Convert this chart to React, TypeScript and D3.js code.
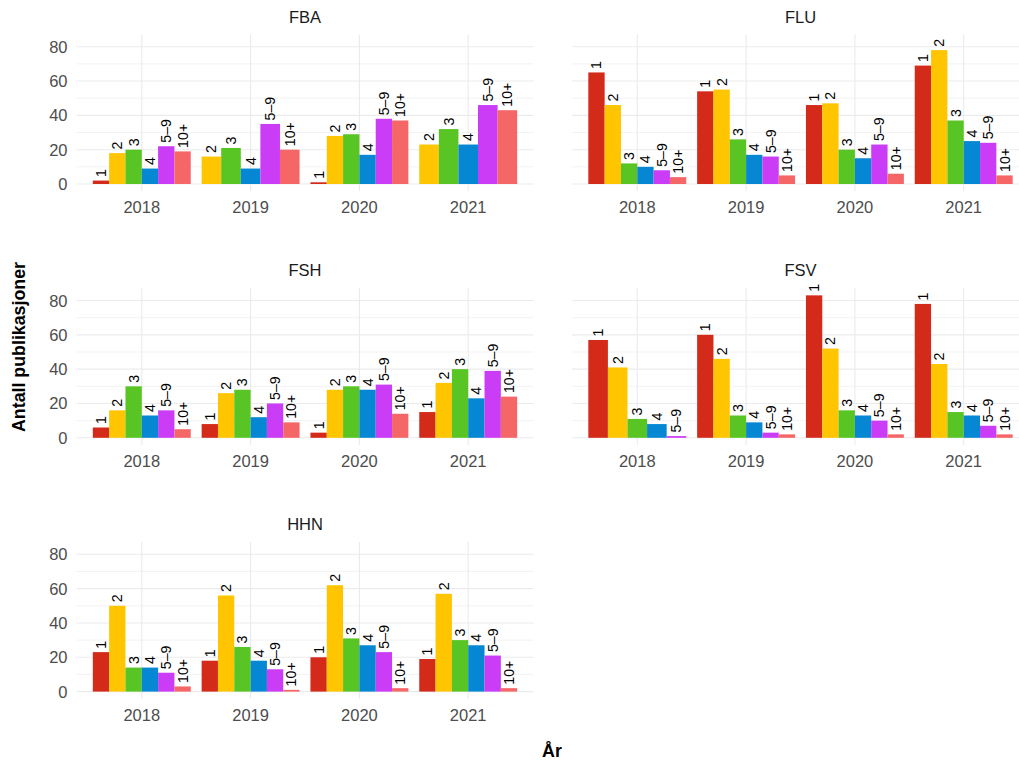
import * as d3 from "d3";
import React from "react";

const facets = ["FBA", "FLU", "FSH", "FSV", "HHN"];
const categories = ["1", "2", "3", "4", "5–9", "10+"];
const years = ["2018", "2019", "2020", "2021"];
const colors = ["#d42a1a", "#fec500", "#58c524", "#0687d4", "#ca3cf6", "#f56767"];

// values per year, in category order (null = no bar)
const fbaValues = [[2, 18, 20, 9, 22, 19], [null, 16, 21, 9, 35, 20], [1, 28, 29, 17, 38, 37], [null, 23, 32, 23, 46, 43]];
const fluValues = [[65, 46, 12, 10, 8, 4], [54, 55, 26, 17, 16, 5], [46, 47, 20, 15, 23, 6], [69, 78, 37, 25, 24, 5]];
const fshValues = [[6, 16, 30, 13, 16, 5], [8, 26, 28, 12, 20, 9], [3, 28, 30, 28, 31, 14], [15, 32, 40, 23, 39, 24]];
const fsvValues = [[57, 41, 11, 8, 1, null], [60, 46, 13, 9, 3, 2], [83, 52, 16, 13, 10, 2], [78, 43, 15, 13, 7, 2]];
const hhnValues = [[23, 50, 14, 14, 11, 3], [18, 56, 26, 18, 13, 1], [20, 62, 31, 27, 23, 2], [19, 57, 30, 27, 21, 2]];

const facetValues = [fbaValues, fluValues, fshValues, fsvValues, hhnValues];
const majorTicks = [0, 20, 40, 60, 80];
const minorTicks = [10, 30, 50, 70];

const W = 1019;
const H = 763;
const font = "'Liberation Sans', Arial, Helvetica, sans-serif";
const colLeft = [76.5, 572];
const panelW = 457;
const rowZero = [184, 437.8, 691.6];
const unit = 137.3 / 80;

const Panel = ({ idx }: { idx: number }) => {
  const col = idx % 2;
  const row = Math.floor(idx / 2);
  const left = colLeft[col];
  const zero = rowZero[row];
  const y = d3.scaleLinear().domain([0, 80]).range([zero, zero - 80 * unit]);
  const top = y(87.15);
  const bottom = y(-4.15);
  const x = d3.scalePoint().domain(years).range([left, left + panelW]).padding(0.6);
  const step = x.step();
  const values = facetValues[idx];

  return (
    <g>
      {minorTicks.map((t) => (
        <line key={"mi" + t} x1={left} x2={left + panelW} y1={y(t)} y2={y(t)} stroke="#ebebeb" strokeWidth={0.6} />
      ))}
      {majorTicks.map((t) => (
        <line key={"ma" + t} x1={left} x2={left + panelW} y1={y(t)} y2={y(t)} stroke="#ebebeb" strokeWidth={1.1} />
      ))}
      {years.map((yr) => (
        <line key={"v" + yr} x1={x(yr)} x2={x(yr)} y1={top} y2={bottom} stroke="#ebebeb" strokeWidth={1.1} />
      ))}
      {years.map((yr, i) => {
        const present = categories.filter((_, c) => values[i][c] != null);
        const cx = x(yr) as number;
        const inner = d3.scaleBand().domain(present).range([cx - 0.45 * step, cx + 0.45 * step]).padding(0);
        return (
          <g key={"b" + yr}>
            {present.map((cat) => {
              const c = categories.indexOf(cat);
              const v = values[i][c] as number;
              const bx = inner(cat) as number;
              const bw = inner.bandwidth();
              return (
                <g key={cat}>
                  <rect x={bx} y={y(v)} width={bw} height={y(0) - y(v)} fill={colors[c]} />
                  <text
                    transform={`translate(${bx + bw / 2},${y(v) - 3.5}) rotate(-90)`}
                    textAnchor="start"
                    dominantBaseline="central"
                    fontSize={14.2}
                    fill="#000"
                  >
                    {cat}
                  </text>
                </g>
              );
            })}
          </g>
        );
      })}
      {col === 0 &&
        majorTicks.map((t) => (
          <text key={"yt" + t} x={left - 9} y={y(t)} textAnchor="end" dominantBaseline="central" fontSize={16.5} fill="#4d4d4d">
            {t}
          </text>
        ))}
      {years.map((yr) => (
        <text key={"xt" + yr} x={x(yr)} y={zero + 29.3} textAnchor="middle" fontSize={16.5} fill="#4d4d4d">
          {yr}
        </text>
      ))}
      <text x={left + panelW / 2} y={zero - 161.5} textAnchor="middle" fontSize={16.5} fill="#1a1a1a">
        {facets[idx]}
      </text>
    </g>
  );
};

export default function App() {
  return (
    <svg
      width={W}
      height={H}
      style={{ position: "absolute", left: 0, top: 0, background: "#fff" }}
      fontFamily={font}
    >
      <rect width={W} height={H} fill="#fff" />
      {facets.map((f, i) => (
        <Panel key={f} idx={i} />
      ))}
      <text
        transform="translate(19,347) rotate(-90)"
        textAnchor="middle"
        dominantBaseline="central"
        fontSize={17.8}
        fontWeight="bold"
        fill="#000"
      >
        Antall publikasjoner
      </text>
      <text x={552} y={757} textAnchor="middle" fontSize={17.8} fontWeight="bold" fill="#000">
        År
      </text>
    </svg>
  );
}
